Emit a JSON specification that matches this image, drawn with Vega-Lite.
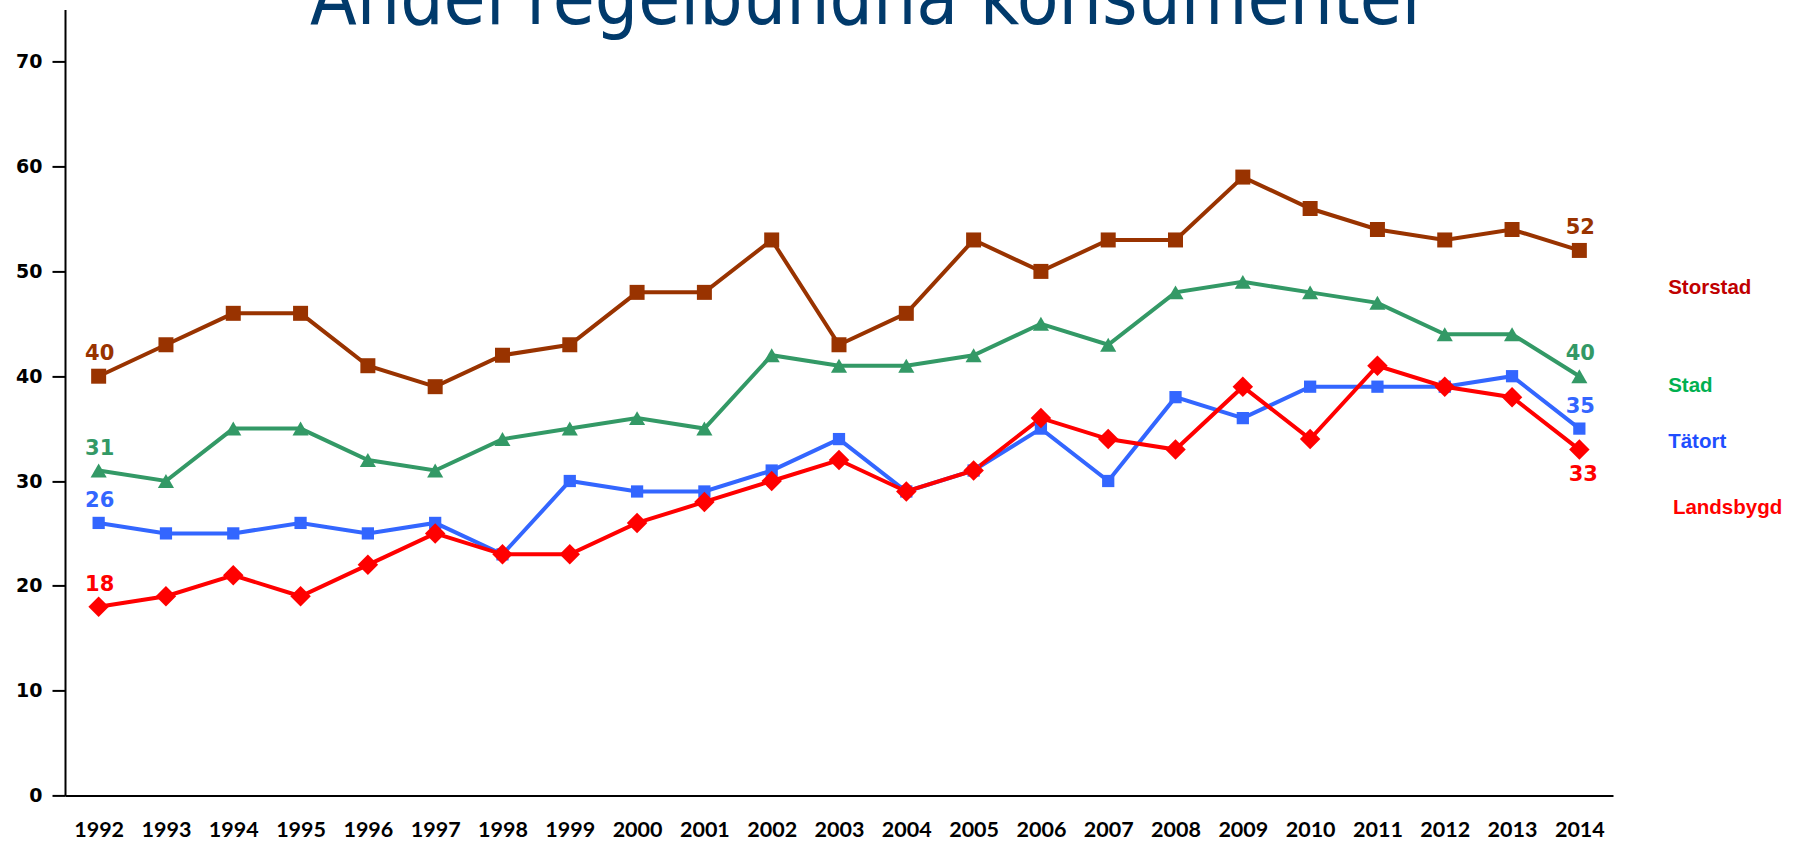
{
  "$schema": "https://vega.github.io/schema/vega-lite/v6.json",
  "autosize": {"type": "none"},
  "width": 1548,
  "height": 786,
  "padding": {"left": 65, "top": 9.4, "right": 182, "bottom": 45.6},
  "background": "white",
  "config": {
    "view": {"stroke": null},
    "axis": {"grid": false}
  },
  "resolve": {"scale": {"color": "independent"}},
  "datasets": {
    "main": [
      {"year": 1992, "series": "Storstad", "value": 40},
      {"year": 1993, "series": "Storstad", "value": 43},
      {"year": 1994, "series": "Storstad", "value": 46},
      {"year": 1995, "series": "Storstad", "value": 46},
      {"year": 1996, "series": "Storstad", "value": 41},
      {"year": 1997, "series": "Storstad", "value": 39},
      {"year": 1998, "series": "Storstad", "value": 42},
      {"year": 1999, "series": "Storstad", "value": 43},
      {"year": 2000, "series": "Storstad", "value": 48},
      {"year": 2001, "series": "Storstad", "value": 48},
      {"year": 2002, "series": "Storstad", "value": 53},
      {"year": 2003, "series": "Storstad", "value": 43},
      {"year": 2004, "series": "Storstad", "value": 46},
      {"year": 2005, "series": "Storstad", "value": 53},
      {"year": 2006, "series": "Storstad", "value": 50},
      {"year": 2007, "series": "Storstad", "value": 53},
      {"year": 2008, "series": "Storstad", "value": 53},
      {"year": 2009, "series": "Storstad", "value": 59},
      {"year": 2010, "series": "Storstad", "value": 56},
      {"year": 2011, "series": "Storstad", "value": 54},
      {"year": 2012, "series": "Storstad", "value": 53},
      {"year": 2013, "series": "Storstad", "value": 54},
      {"year": 2014, "series": "Storstad", "value": 52},
      {"year": 1992, "series": "Stad", "value": 31},
      {"year": 1993, "series": "Stad", "value": 30},
      {"year": 1994, "series": "Stad", "value": 35},
      {"year": 1995, "series": "Stad", "value": 35},
      {"year": 1996, "series": "Stad", "value": 32},
      {"year": 1997, "series": "Stad", "value": 31},
      {"year": 1998, "series": "Stad", "value": 34},
      {"year": 1999, "series": "Stad", "value": 35},
      {"year": 2000, "series": "Stad", "value": 36},
      {"year": 2001, "series": "Stad", "value": 35},
      {"year": 2002, "series": "Stad", "value": 42},
      {"year": 2003, "series": "Stad", "value": 41},
      {"year": 2004, "series": "Stad", "value": 41},
      {"year": 2005, "series": "Stad", "value": 42},
      {"year": 2006, "series": "Stad", "value": 45},
      {"year": 2007, "series": "Stad", "value": 43},
      {"year": 2008, "series": "Stad", "value": 48},
      {"year": 2009, "series": "Stad", "value": 49},
      {"year": 2010, "series": "Stad", "value": 48},
      {"year": 2011, "series": "Stad", "value": 47},
      {"year": 2012, "series": "Stad", "value": 44},
      {"year": 2013, "series": "Stad", "value": 44},
      {"year": 2014, "series": "Stad", "value": 40},
      {"year": 1992, "series": "Tätort", "value": 26},
      {"year": 1993, "series": "Tätort", "value": 25},
      {"year": 1994, "series": "Tätort", "value": 25},
      {"year": 1995, "series": "Tätort", "value": 26},
      {"year": 1996, "series": "Tätort", "value": 25},
      {"year": 1997, "series": "Tätort", "value": 26},
      {"year": 1998, "series": "Tätort", "value": 23},
      {"year": 1999, "series": "Tätort", "value": 30},
      {"year": 2000, "series": "Tätort", "value": 29},
      {"year": 2001, "series": "Tätort", "value": 29},
      {"year": 2002, "series": "Tätort", "value": 31},
      {"year": 2003, "series": "Tätort", "value": 34},
      {"year": 2004, "series": "Tätort", "value": 29},
      {"year": 2005, "series": "Tätort", "value": 31},
      {"year": 2006, "series": "Tätort", "value": 35},
      {"year": 2007, "series": "Tätort", "value": 30},
      {"year": 2008, "series": "Tätort", "value": 38},
      {"year": 2009, "series": "Tätort", "value": 36},
      {"year": 2010, "series": "Tätort", "value": 39},
      {"year": 2011, "series": "Tätort", "value": 39},
      {"year": 2012, "series": "Tätort", "value": 39},
      {"year": 2013, "series": "Tätort", "value": 40},
      {"year": 2014, "series": "Tätort", "value": 35},
      {"year": 1992, "series": "Landsbygd", "value": 18},
      {"year": 1993, "series": "Landsbygd", "value": 19},
      {"year": 1994, "series": "Landsbygd", "value": 21},
      {"year": 1995, "series": "Landsbygd", "value": 19},
      {"year": 1996, "series": "Landsbygd", "value": 22},
      {"year": 1997, "series": "Landsbygd", "value": 25},
      {"year": 1998, "series": "Landsbygd", "value": 23},
      {"year": 1999, "series": "Landsbygd", "value": 23},
      {"year": 2000, "series": "Landsbygd", "value": 26},
      {"year": 2001, "series": "Landsbygd", "value": 28},
      {"year": 2002, "series": "Landsbygd", "value": 30},
      {"year": 2003, "series": "Landsbygd", "value": 32},
      {"year": 2004, "series": "Landsbygd", "value": 29},
      {"year": 2005, "series": "Landsbygd", "value": 31},
      {"year": 2006, "series": "Landsbygd", "value": 36},
      {"year": 2007, "series": "Landsbygd", "value": 34},
      {"year": 2008, "series": "Landsbygd", "value": 33},
      {"year": 2009, "series": "Landsbygd", "value": 39},
      {"year": 2010, "series": "Landsbygd", "value": 34},
      {"year": 2011, "series": "Landsbygd", "value": 41},
      {"year": 2012, "series": "Landsbygd", "value": 39},
      {"year": 2013, "series": "Landsbygd", "value": 38},
      {"year": 2014, "series": "Landsbygd", "value": 33}
    ],
    "legend": [
      {"name": "Storstad", "lx": 2015.32, "ly": 48.4},
      {"name": "Stad", "lx": 2015.32, "ly": 39.1},
      {"name": "Tätort", "lx": 2015.32, "ly": 33.7},
      {"name": "Landsbygd", "lx": 2015.39, "ly": 27.4}
    ],
    "title": [
      {"label": "Andel regelbundna konsumenter", "tx": 2003.46, "ty": 73.6}
    ]
  },
  "layer": [
    {
      "data": {"name": "main"},
      "mark": {"type": "line", "strokeWidth": 4},
      "encoding": {
        "x": {
          "field": "year", "type": "quantitative",
          "scale": {"domain": [1991.5, 2014.5], "nice": false, "zero": false},
          "axis": {
            "title": null,
            "values": [1992,1993,1994,1995,1996,1997,1998,1999,2000,2001,2002,2003,2004,2005,2006,2007,2008,2009,2010,2011,2012,2013,2014],
            "format": "d",
            "ticks": false,
            "labelPadding": 24,
            "labelFont": "Lato",
            "labelFontWeight": "bold",
            "labelFontSize": 21.5,
            "labelColor": "#000000",
            "domainColor": "#000000",
            "domainWidth": 2,
            "labelFlush": false,
            "labelOverlap": false
          }
        },
        "y": {
          "field": "value", "type": "quantitative",
          "scale": {"domain": [0, 75], "nice": false},
          "axis": {
            "title": null,
            "values": [0,10,20,30,40,50,60,70],
            "tickSize": 13,
            "tickWidth": 2,
            "tickColor": "#000000",
            "labelPadding": 10,
            "labelFont": "DejaVu Sans",
            "labelFontWeight": "bold",
            "labelFontSize": 19,
            "labelColor": "#000000",
            "domainColor": "#000000",
            "domainWidth": 2
          }
        },
        "color": {
          "field": "series", "type": "nominal",
          "scale": {"domain": ["Storstad", "Stad", "Tätort", "Landsbygd"], "range": ["#993300", "#339966", "#3366FF", "#FF0000"]},
          "legend": null
        },
        "detail": {"field": "series"}
      }
    },
    {
      "data": {"name": "main"},
      "transform": [{"filter": "datum.series == 'Storstad'"}],
      "mark": {"type": "point", "filled": true, "opacity": 1, "shape": "square", "size": 225, "color": "#993300"},
      "encoding": {
        "x": {"field": "year", "type": "quantitative"},
        "y": {"field": "value", "type": "quantitative"}
      }
    },
    {
      "data": {"name": "main"},
      "transform": [{"filter": "datum.series == 'Stad'"}],
      "mark": {"type": "point", "filled": true, "opacity": 1, "shape": "triangle-up", "size": 260, "color": "#339966"},
      "encoding": {
        "x": {"field": "year", "type": "quantitative"},
        "y": {"field": "value", "type": "quantitative"}
      }
    },
    {
      "data": {"name": "main"},
      "transform": [{"filter": "datum.series == 'Tätort'"}],
      "mark": {"type": "point", "filled": true, "opacity": 1, "shape": "square", "size": 150, "color": "#3366FF"},
      "encoding": {
        "x": {"field": "year", "type": "quantitative"},
        "y": {"field": "value", "type": "quantitative"}
      }
    },
    {
      "data": {"name": "main"},
      "transform": [{"filter": "datum.series == 'Landsbygd'"}],
      "mark": {"type": "point", "filled": true, "opacity": 1, "shape": "diamond", "size": 420, "color": "#FF0000"},
      "encoding": {
        "x": {"field": "year", "type": "quantitative"},
        "y": {"field": "value", "type": "quantitative"}
      }
    },
    {
      "data": {"name": "main"},
      "transform": [
        {"filter": "(datum.year == 1992 || datum.year == 2014) && !(datum.year == 2014 && datum.series == 'Landsbygd')"}
      ],
      "mark": {"type": "text", "font": "DejaVu Sans", "fontWeight": "bold", "fontSize": 21, "baseline": "alphabetic", "dy": -16, "dx": 1},
      "encoding": {
        "x": {"field": "year", "type": "quantitative"},
        "y": {"field": "value", "type": "quantitative"},
        "text": {"field": "value", "type": "quantitative"},
        "color": {
          "field": "series", "type": "nominal",
          "scale": {"domain": ["Storstad", "Stad", "Tätort", "Landsbygd"], "range": ["#993300", "#339966", "#3366FF", "#FF0000"]},
          "legend": null
        }
      }
    },
    {
      "data": {"name": "main"},
      "transform": [
        {"filter": "datum.year == 2014 && datum.series == 'Landsbygd'"}
      ],
      "mark": {"type": "text", "font": "DejaVu Sans", "fontWeight": "bold", "fontSize": 21, "baseline": "top", "dy": 14, "dx": 4},
      "encoding": {
        "x": {"field": "year", "type": "quantitative"},
        "y": {"field": "value", "type": "quantitative"},
        "text": {"field": "value", "type": "quantitative"},
        "color": {
          "field": "series", "type": "nominal",
          "scale": {"domain": ["Storstad", "Stad", "Tätort", "Landsbygd"], "range": ["#993300", "#339966", "#3366FF", "#FF0000"]},
          "legend": null
        }
      }
    },
    {
      "data": {"name": "legend"},
      "mark": {"type": "text", "font": "Liberation Sans", "fontWeight": "bold", "fontSize": 20.5, "align": "left", "baseline": "middle"},
      "encoding": {
        "x": {"field": "lx", "type": "quantitative"},
        "y": {"field": "ly", "type": "quantitative"},
        "text": {"field": "name", "type": "nominal"},
        "color": {
          "field": "name", "type": "nominal",
          "scale": {"domain": ["Storstad", "Stad", "Tätort", "Landsbygd"], "range": ["#C00000", "#00B050", "#1F4EFF", "#FF0000"]},
          "legend": null
        }
      }
    },
    {
      "data": {"name": "title"},
      "mark": {"type": "text", "font": "DejaVu Sans Condensed, sans-serif", "fontSize": 76, "align": "center", "baseline": "alphabetic", "color": "#013A6B"},
      "encoding": {
        "x": {"field": "tx", "type": "quantitative"},
        "y": {"field": "ty", "type": "quantitative"},
        "text": {"field": "label", "type": "nominal"}
      }
    }
  ]
}
